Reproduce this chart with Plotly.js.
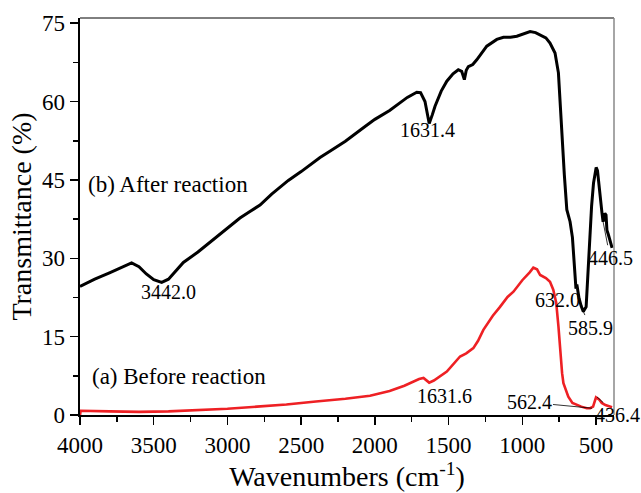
<!DOCTYPE html>
<html>
<head>
<meta charset="utf-8">
<script src="https://cdn.plot.ly/plotly-3.0.1.min.js"></script>
<style>html,body{margin:0;padding:0;background:#fff;}#chart{width:641px;height:493px;}</style>
</head>
<body>
<div id="chart"></div>
<script>
// (b) After reaction (black)
var afterX = [4000, 3900, 3800, 3700, 3650, 3600, 3550, 3500, 3446, 3400, 3350, 3299, 3200, 3100, 3000, 2915, 2850, 2779, 2700, 2587, 2500, 2372, 2300, 2200, 2078, 2000, 1900, 1851, 1780, 1716, 1690, 1660, 1631.4, 1610, 1592, 1550, 1512, 1470, 1434, 1411, 1393, 1380, 1366, 1336, 1309, 1241, 1173, 1128, 1080, 1037, 980, 947, 910, 879, 840, 812, 778, 755, 745, 732, 715, 698, 676, 660, 645, 636, 630, 624, 615, 600, 585.9, 567, 551, 530, 517, 499, 490, 472, 460, 452, 440, 432, 426, 416, 391];
var afterY = [24.6, 26.0, 27.2, 28.5, 29.1, 28.4, 27.0, 25.9, 25.4, 26.0, 27.6, 29.2, 31.2, 33.5, 35.8, 37.7, 38.9, 40.2, 42.3, 44.9, 46.6, 49.3, 50.6, 52.4, 55.0, 56.6, 58.3, 59.3, 60.8, 61.8, 61.7, 60.0, 55.8, 57.5, 59.1, 62.0, 63.9, 65.3, 66.1, 65.8, 64.2, 66.0, 66.7, 67.1, 68.0, 70.6, 71.9, 72.3, 72.3, 72.5, 73.0, 73.4, 73.2, 72.8, 72.2, 71.2, 69.3, 65.5, 60.0, 54.0, 46.0, 39.3, 37.0, 34.0, 27.5, 24.2, 25.0, 23.6, 22.3, 20.8, 19.8, 20.7, 29.7, 40.0, 44.4, 47.4, 46.8, 41.2, 38.8, 37.0, 38.6, 38.3, 35.4, 34.5, 32.0];

// (a) Before reaction (red)
var beforeX = [4000, 3996, 3800, 3600, 3400, 3200, 3000, 2800, 2600, 2400, 2200, 2033, 1900, 1800, 1700, 1670, 1631.6, 1600, 1512, 1422, 1380, 1332, 1300, 1264, 1200, 1151, 1100, 1060, 1000, 950, 925, 900, 879, 840, 812, 790, 770, 755, 744, 730, 721, 700, 688, 660, 631, 600, 562.4, 540, 520, 500, 480, 461, 436.4, 420, 391];
var beforeY = [0.0, 0.8, 0.7, 0.6, 0.7, 0.9, 1.2, 1.6, 2.0, 2.6, 3.1, 3.7, 4.6, 5.6, 6.9, 7.1, 6.2, 6.6, 8.3, 11.2, 11.8, 12.8, 14.2, 16.3, 19.0, 20.7, 22.6, 23.6, 25.8, 27.3, 28.2, 27.9, 26.8, 26.2, 25.5, 24.0, 21.5, 17.0, 12.5, 8.0, 6.1, 4.3, 3.5, 2.3, 1.9, 1.6, 1.3, 1.3, 1.6, 3.4, 3.0, 2.3, 1.9, 1.7, 1.5];

var xTicks = [4000, 3500, 3000, 2500, 2000, 1500, 1000, 500];
var yTicks = [0, 15, 30, 45, 60, 75];

var seriesNames = ["(b) After reaction", "(a) Before reaction"];
var peakLabels = ["3442.0", "1631.4", "632.0", "585.9", "446.5", "1631.6", "562.4", "436.4"];

var FONT = "Liberation Serif, Times New Roman, serif";

var traces = [
  {x: afterX, y: afterY, type: "scatter", mode: "lines", name: seriesNames[0],
   line: {color: "#000000", width: 3}},
  {x: beforeX, y: beforeY, type: "scatter", mode: "lines", name: seriesNames[1],
   line: {color: "#ee2024", width: 2.6}}
];

var af = {family: FONT, size: 20, color: "#000"};
var annotations = [
  {x: 3959, y: 44.1, text: seriesNames[0], showarrow: false, xanchor: "left", yanchor: "middle",
   font: {family: FONT, size: 23, color: "#000"}},
  {x: 3932, y: 7.3, text: seriesNames[1], showarrow: false, xanchor: "left", yanchor: "middle",
   font: {family: FONT, size: 23, color: "#000"}},
  {x: 3400, y: 23.6, text: peakLabels[0], showarrow: false, font: af},
  {x: 1643, y: 54.6, text: peakLabels[1], showarrow: false, font: af},
  {x: 761, y: 22.0, text: peakLabels[2], showarrow: false, font: af},
  {x: 585.9, y: 19.8, text: peakLabels[3], showarrow: true, arrowhead: 0, arrowwidth: 0.8, arrowcolor: "#000",
   ax: 7, ay: 16, standoff: 0, font: af},
  {x: 452, y: 37.0, text: peakLabels[4], showarrow: true, arrowhead: 0, arrowwidth: 0.8, arrowcolor: "#000",
   ax: 7, ay: 36, standoff: 0, font: af},
  {x: 1527, y: 3.7, text: peakLabels[5], showarrow: false, font: af},
  {x: 527, y: 1.3, text: peakLabels[6], showarrow: true, arrowhead: 0, arrowwidth: 0.8, arrowcolor: "#000",
   ax: -63, ay: -6, standoff: 0, font: af},
  {x: 493, y: 3.45, text: peakLabels[7], showarrow: true, arrowhead: 0, arrowwidth: 0.8, arrowcolor: "#000",
   ax: 20, ay: 18, standoff: 0, font: af}
];

var layout = {
  width: 641, height: 493,
  margin: {l: 80, r: 27, t: 18, b: 78},
  paper_bgcolor: "#fff", plot_bgcolor: "#fff",
  showlegend: false,
  font: {family: FONT, color: "#000"},
  xaxis: {
    range: [4000, 378],
    tickvals: xTicks, ticktext: xTicks.map(String),
    ticks: "outside", ticklen: 8, tickwidth: 1.5, tickcolor: "#000",
    minor: {dtick: 250, ticks: "outside", ticklen: 5, tickwidth: 1.5, tickcolor: "#000", tick0: 0},
    showline: true, linecolor: "#000", linewidth: 2,
    showgrid: false, zeroline: false,
    tickfont: {family: FONT, size: 23, color: "#000"},
    title: {text: "Wavenumbers (cm<sup>-1</sup>)", font: {family: FONT, size: 28, color: "#000"}, standoff: 8}
  },
  yaxis: {
    range: [0, 76],
    tickvals: yTicks, ticktext: yTicks.map(String),
    ticks: "outside", ticklen: 8, tickwidth: 1.5, tickcolor: "#000",
    minor: {dtick: 7.5, ticks: "outside", ticklen: 5, tickwidth: 1.5, tickcolor: "#000", tick0: 0},
    showline: true, linecolor: "#000", linewidth: 2.5,
    showgrid: false, zeroline: false,
    tickfont: {family: FONT, size: 23, color: "#000"},
    title: {text: "Transmittance (%)", font: {family: FONT, size: 28, color: "#000"}, standoff: 2}
  },
  shapes: [
    {type: "line", xref: "paper", yref: "paper", x0: 0, x1: 1, y0: 1, y1: 1, line: {color: "#000", width: 1}},
    {type: "line", xref: "paper", yref: "paper", x0: 1, x1: 1, y0: 0, y1: 1, line: {color: "#888", width: 1.5}}
  ],
  annotations: annotations
};

Plotly.newPlot("chart", traces, layout, {displayModeBar: false, staticPlot: true});
</script>
</body>
</html>
